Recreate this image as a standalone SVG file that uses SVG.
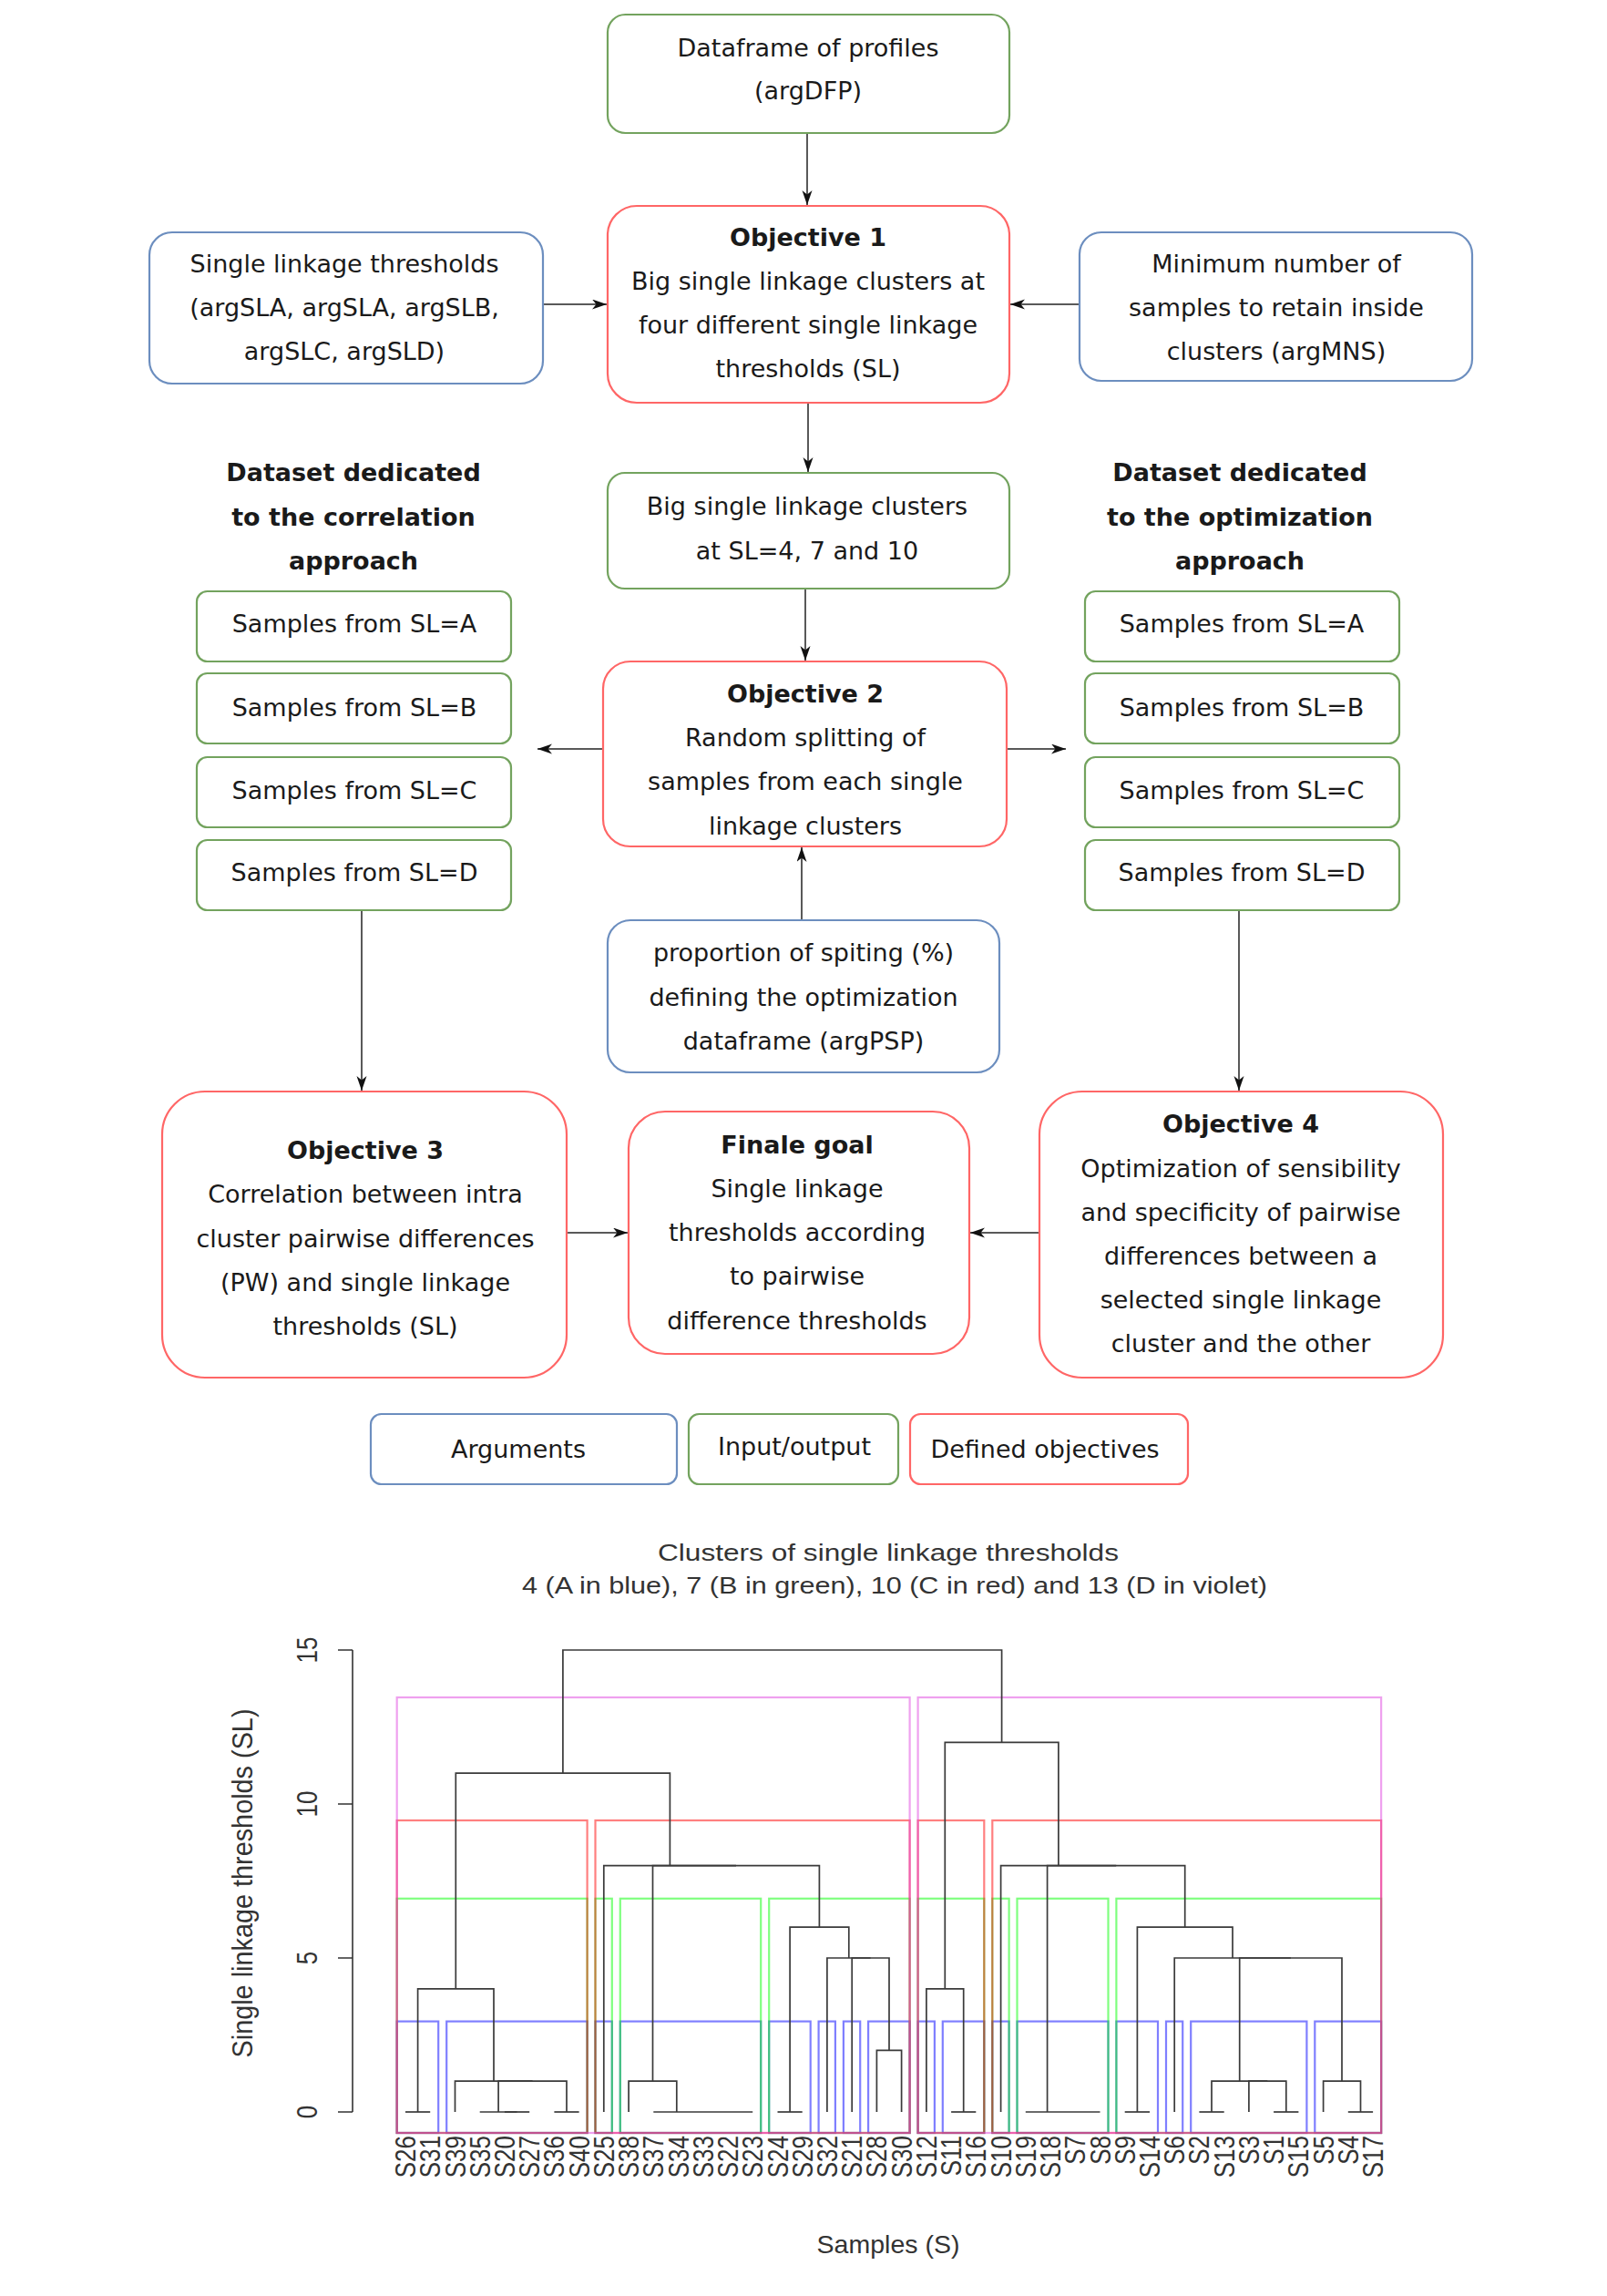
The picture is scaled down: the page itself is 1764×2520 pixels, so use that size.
<svg xmlns="http://www.w3.org/2000/svg" width="1764" height="2520" viewBox="0 0 1764 2520">
<style>
.box{fill:#fff;stroke-width:2.2}
.g{stroke:#73a35e}.b{stroke:#6c8ebf}.r{stroke:#ff6666}
.t{font-family:"DejaVu Sans",Verdana,sans-serif;font-size:27px;fill:#1a1a1a;text-anchor:middle}
.bd{font-weight:bold}
.conn{stroke:#222;stroke-width:1.5;fill:none;marker-end:url(#arr)}
.dl{stroke:#3a3a3a;stroke-width:1.7;fill:none}
.rc{fill:none;stroke-width:2.2;stroke-opacity:0.5}
.rv{stroke:#e044e0}.rr{stroke:#ff0000}.rg{stroke:#00ff00}.rb{stroke:#0000ff}
.pt{font-family:"Liberation Sans",Arial,sans-serif;fill:#333}
.lab{font-size:26px;text-anchor:end}
.tick{font-size:26px;text-anchor:middle}
.ax{stroke:#333;stroke-width:1.6;fill:none}
</style>
<defs>
<marker id="arr" markerWidth="18" markerHeight="12" refX="16" refY="5.5" orient="auto" markerUnits="userSpaceOnUse"><path d="M0,0 L16,5.5 L0,11 L4.5,5.5 z" fill="#111"/></marker>
</defs>

<g id="connectors">
<path class="conn" d="M886,146 V225"/>
<path class="conn" d="M596,334 H666"/>
<path class="conn" d="M1185,334 H1109"/>
<path class="conn" d="M887,442 V518"/>
<path class="conn" d="M884,646 V725"/>
<path class="conn" d="M662,822 H590"/>
<path class="conn" d="M1105,822 H1170"/>
<path class="conn" d="M880,1010 V930"/>
<path class="conn" d="M397,1000 V1197"/>
<path class="conn" d="M1360,1000 V1197"/>
<path class="conn" d="M622,1353 H689"/>
<path class="conn" d="M1141,1353 H1065"/>
</g>

<g id="n_dfp"><rect class="box g" x="667" y="16" width="441" height="130" rx="19.5"/>
<text class="t" x="887" y="62">Dataframe of profiles</text><text class="t" x="887" y="109">(argDFP)</text></g>

<g id="n_obj1"><rect class="box r" x="667" y="226" width="441" height="216" rx="32"/>
<text class="t bd" x="887" y="270">Objective 1</text>
<text class="t" x="887" y="318">Big single linkage clusters at</text>
<text class="t" x="887" y="366">four different single linkage</text>
<text class="t" x="887" y="414">thresholds (SL)</text></g>

<g id="n_slt"><rect class="box b" x="164" y="255" width="432" height="166" rx="25"/>
<text class="t" x="378" y="299">Single linkage thresholds</text>
<text class="t" x="378" y="347">(argSLA, argSLA, argSLB,</text>
<text class="t" x="378" y="395">argSLC, argSLD)</text></g>

<g id="n_mns"><rect class="box b" x="1185" y="255" width="431" height="163" rx="24"/>
<text class="t" x="1401" y="299">Minimum number of</text>
<text class="t" x="1401" y="347">samples to retain inside</text>
<text class="t" x="1401" y="395">clusters (argMNS)</text></g>

<g id="n_dscorr">
<text class="t bd" x="388" y="528">Dataset dedicated</text>
<text class="t bd" x="388" y="577">to the correlation</text>
<text class="t bd" x="388" y="625">approach</text></g>

<g id="n_big"><rect class="box g" x="667" y="519" width="441" height="127" rx="19"/>
<text class="t" x="886" y="565">Big single linkage clusters</text>
<text class="t" x="886" y="614">at SL=4, 7 and 10</text></g>

<g id="n_dsopt">
<text class="t bd" x="1361" y="528">Dataset dedicated</text>
<text class="t bd" x="1361" y="577">to the optimization</text>
<text class="t bd" x="1361" y="625">approach</text></g>

<g id="n_corrA"><rect class="box g" x="216" y="649" width="345" height="77" rx="11.5"/><text class="t" x="389" y="694">Samples from SL=A</text></g>
<g id="n_corrB"><rect class="box g" x="216" y="739" width="345" height="77" rx="11.5"/><text class="t" x="389" y="786">Samples from SL=B</text></g>
<g id="n_corrC"><rect class="box g" x="216" y="831" width="345" height="77" rx="11.5"/><text class="t" x="389" y="877">Samples from SL=C</text></g>
<g id="n_corrD"><rect class="box g" x="216" y="922" width="345" height="77" rx="11.5"/><text class="t" x="389" y="967">Samples from SL=D</text></g>

<g id="n_optA"><rect class="box g" x="1191" y="649" width="345" height="77" rx="11.5"/><text class="t" x="1363" y="694">Samples from SL=A</text></g>
<g id="n_optB"><rect class="box g" x="1191" y="739" width="345" height="77" rx="11.5"/><text class="t" x="1363" y="786">Samples from SL=B</text></g>
<g id="n_optC"><rect class="box g" x="1191" y="831" width="345" height="77" rx="11.5"/><text class="t" x="1363" y="877">Samples from SL=C</text></g>
<g id="n_optD"><rect class="box g" x="1191" y="922" width="345" height="77" rx="11.5"/><text class="t" x="1363" y="967">Samples from SL=D</text></g>

<g id="n_obj2"><rect class="box r" x="662" y="726" width="443" height="203" rx="30"/>
<text class="t bd" x="884" y="771">Objective 2</text>
<text class="t" x="884" y="819">Random splitting of</text>
<text class="t" x="884" y="867">samples from each single</text>
<text class="t" x="884" y="916">linkage clusters</text></g>

<g id="n_psp"><rect class="box b" x="667" y="1010" width="430" height="167" rx="25"/>
<text class="t" x="882" y="1055">proportion of spiting (%)</text>
<text class="t" x="882" y="1104">defining the optimization</text>
<text class="t" x="882" y="1152">dataframe (argPSP)</text></g>

<g id="n_obj3"><rect class="box r" x="178" y="1198" width="444" height="314" rx="47"/>
<text class="t bd" x="401" y="1272">Objective 3</text>
<text class="t" x="401" y="1320">Correlation between intra</text>
<text class="t" x="401" y="1369">cluster pairwise differences</text>
<text class="t" x="401" y="1417">(PW) and single linkage</text>
<text class="t" x="401" y="1465">thresholds (SL)</text></g>

<g id="n_final"><rect class="box r" x="690" y="1220" width="374" height="266" rx="40"/>
<text class="t bd" x="875" y="1266">Finale goal</text>
<text class="t" x="875" y="1314">Single linkage</text>
<text class="t" x="875" y="1362">thresholds according</text>
<text class="t" x="875" y="1410">to pairwise</text>
<text class="t" x="875" y="1459">difference thresholds</text></g>

<g id="n_obj4"><rect class="box r" x="1141" y="1198" width="443" height="314" rx="47"/>
<text class="t bd" x="1362" y="1243">Objective 4</text>
<text class="t" x="1362" y="1292">Optimization of sensibility</text>
<text class="t" x="1362" y="1340">and specificity of pairwise</text>
<text class="t" x="1362" y="1388">differences between a</text>
<text class="t" x="1362" y="1436">selected single linkage</text>
<text class="t" x="1362" y="1484">cluster and the other</text></g>

<g id="legend_args"><rect class="box b" x="407" y="1552" width="336" height="77" rx="11.5"/><text class="t" x="569" y="1600">Arguments</text></g>
<g id="legend_io"><rect class="box g" x="756" y="1552" width="230" height="77" rx="11.5"/><text class="t" x="872" y="1597">Input/output</text></g>
<g id="legend_obj"><rect class="box r" x="999" y="1552" width="305" height="77" rx="11.5"/><text class="t" x="1147" y="1600">Defined objectives</text></g>

<g id="dendrogram">
<text class="pt" x="975" y="1713" font-size="26" text-anchor="middle" textLength="506" lengthAdjust="spacingAndGlyphs">Clusters of single linkage thresholds</text>
<text class="pt" x="982" y="1749" font-size="26" text-anchor="middle" textLength="818" lengthAdjust="spacingAndGlyphs">4 (A in blue), 7 (B in green), 10 (C in red) and 13 (D in violet)</text>

<path class="ax" d="M387,1811 V2318 M371,2318 H387 M371,2149 H387 M371,1980 H387 M371,1811 H387"/>
<g class="pt tick">
<text transform="translate(348,2318) scale(1.2,1) rotate(-90)">0</text>
<text transform="translate(348,2149) scale(1.2,1) rotate(-90)">5</text>
<text transform="translate(348,1980) scale(1.2,1) rotate(-90)">10</text>
<text transform="translate(348,1811) scale(1.2,1) rotate(-90)">15</text>
</g>
<text class="pt" transform="translate(277,2067) scale(1.15,1) rotate(-90)" font-size="28" text-anchor="middle" textLength="383" lengthAdjust="spacingAndGlyphs">Single linkage thresholds (SL)</text>
<text class="pt" x="975" y="2473" font-size="28.5" text-anchor="middle">Samples (S)</text>

<g id="clusters">
<rect class="rc rb" x="435.7" y="2218.6" width="45.5" height="122.4"/>
<rect class="rc rb" x="490.2" y="2218.6" width="154.4" height="122.4"/>
<rect class="rc rb" x="653.5" y="2218.6" width="18.3" height="122.4"/>
<rect class="rc rb" x="680.8" y="2218.6" width="154.4" height="122.4"/>
<rect class="rc rb" x="844.2" y="2218.6" width="45.5" height="122.4"/>
<rect class="rc rb" x="898.6" y="2218.6" width="18.3" height="122.4"/>
<rect class="rc rb" x="925.9" y="2218.6" width="18.3" height="122.4"/>
<rect class="rc rb" x="953.1" y="2218.6" width="45.5" height="122.4"/>
<rect class="rc rb" x="1007.6" y="2218.6" width="18.3" height="122.4"/>
<rect class="rc rb" x="1034.8" y="2218.6" width="45.5" height="122.4"/>
<rect class="rc rb" x="1089.3" y="2218.6" width="18.3" height="122.4"/>
<rect class="rc rb" x="1116.5" y="2218.6" width="100" height="122.4"/>
<rect class="rc rb" x="1225.4" y="2218.6" width="45.6" height="122.4"/>
<rect class="rc rb" x="1280" y="2218.6" width="18.2" height="122.4"/>
<rect class="rc rb" x="1307.2" y="2218.6" width="127.2" height="122.4"/>
<rect class="rc rb" x="1443.3" y="2218.6" width="72.8" height="122.4"/>
<rect class="rc rg" x="435.7" y="2083.8" width="208.9" height="257.2"/>
<rect class="rc rg" x="653.5" y="2083.8" width="18.3" height="257.2"/>
<rect class="rc rg" x="680.8" y="2083.8" width="154.4" height="257.2"/>
<rect class="rc rg" x="844.2" y="2083.8" width="154.4" height="257.2"/>
<rect class="rc rg" x="1007.6" y="2083.8" width="72.7" height="257.2"/>
<rect class="rc rg" x="1089.3" y="2083.8" width="18.3" height="257.2"/>
<rect class="rc rg" x="1116.5" y="2083.8" width="100" height="257.2"/>
<rect class="rc rg" x="1225.4" y="2083.8" width="290.7" height="257.2"/>
<rect class="rc rr" x="435.7" y="1998" width="208.9" height="343"/>
<rect class="rc rr" x="653.5" y="1998" width="345.1" height="343"/>
<rect class="rc rr" x="1007.6" y="1998" width="72.7" height="343"/>
<rect class="rc rr" x="1089.3" y="1998" width="426.8" height="343"/>
<rect class="rc rv" x="435.7" y="1863" width="562.9" height="478"/>
<rect class="rc rv" x="1007.6" y="1863" width="508.5" height="478"/>
</g>

<g id="tree" class="dl">
<path d="M445,2318H472.2"/>
<path d="M553.9,2318H581.2"/>
<path d="M526.7,2318H567.5"/>
<path d="M608.4,2318H635.6"/>
<path d="M547.1,2318V2284.2H622V2318"/>
<path d="M499.5,2318V2284.2H584.6"/>
<path d="M458.6,2318V2182.8H542V2284.2"/>
<path d="M717.3,2318H826.2"/>
<path d="M690.1,2318V2284.2H742.8V2318"/>
<path d="M853.5,2318H880.7"/>
<path d="M962.4,2318V2250.4H989.6V2318"/>
<path d="M935.2,2318V2149H976V2250.4"/>
<path d="M907.9,2318V2149H955.6"/>
<path d="M867.1,2318V2115.2H931.8V2149"/>
<path d="M716.5,2284.2V2047.6H899.4V2115.2"/>
<path d="M662.8,2318V2047.6H808"/>
<path d="M500.3,2182.8V1946.2H735.4V2047.6"/>
<path d="M1044.1,2318H1071.3"/>
<path d="M1016.9,2318V2182.8H1057.7V2318"/>
<path d="M1125.8,2318H1207.5"/>
<path d="M1234.7,2318H1262"/>
<path d="M1316.4,2318H1343.7"/>
<path d="M1398.1,2318H1425.4"/>
<path d="M1370.9,2318V2284.2H1411.8V2318"/>
<path d="M1330,2318V2284.2H1391.3"/>
<path d="M1479.8,2318H1507.1"/>
<path d="M1452.6,2318V2284.2H1493.5V2318"/>
<path d="M1360.7,2284.2V2149H1473V2284.2"/>
<path d="M1289.2,2318V2149H1416.9"/>
<path d="M1248.4,2318V2115.2H1353V2149"/>
<path d="M1149.6,2318V2047.6H1300.7V2115.2"/>
<path d="M1098.6,2318V2047.6H1225.2"/>
<path d="M1037.3,2182.8V1912.4H1161.9V2047.6"/>
<path d="M617.9,1946.2V1811H1099.6V1912.4"/>
</g>

<g id="leaf_labels" class="pt lab">
<text transform="translate(456,2344) scale(1.2,1) rotate(-90)">S26</text>
<text transform="translate(483.2,2344) scale(1.2,1) rotate(-90)">S31</text>
<text transform="translate(510.5,2344) scale(1.2,1) rotate(-90)">S39</text>
<text transform="translate(537.7,2344) scale(1.2,1) rotate(-90)">S35</text>
<text transform="translate(564.9,2344) scale(1.2,1) rotate(-90)">S20</text>
<text transform="translate(592.2,2344) scale(1.2,1) rotate(-90)">S27</text>
<text transform="translate(619.4,2344) scale(1.2,1) rotate(-90)">S36</text>
<text transform="translate(646.6,2344) scale(1.2,1) rotate(-90)">S40</text>
<text transform="translate(673.8,2344) scale(1.2,1) rotate(-90)">S25</text>
<text transform="translate(701.1,2344) scale(1.2,1) rotate(-90)">S38</text>
<text transform="translate(728.3,2344) scale(1.2,1) rotate(-90)">S37</text>
<text transform="translate(755.5,2344) scale(1.2,1) rotate(-90)">S34</text>
<text transform="translate(782.8,2344) scale(1.2,1) rotate(-90)">S33</text>
<text transform="translate(810,2344) scale(1.2,1) rotate(-90)">S22</text>
<text transform="translate(837.2,2344) scale(1.2,1) rotate(-90)">S23</text>
<text transform="translate(864.5,2344) scale(1.2,1) rotate(-90)">S24</text>
<text transform="translate(891.7,2344) scale(1.2,1) rotate(-90)">S29</text>
<text transform="translate(918.9,2344) scale(1.2,1) rotate(-90)">S32</text>
<text transform="translate(946.2,2344) scale(1.2,1) rotate(-90)">S21</text>
<text transform="translate(973.4,2344) scale(1.2,1) rotate(-90)">S28</text>
<text transform="translate(1000.6,2344) scale(1.2,1) rotate(-90)">S30</text>
<text transform="translate(1027.9,2344) scale(1.2,1) rotate(-90)">S12</text>
<text transform="translate(1055.1,2344) scale(1.2,1) rotate(-90)">S11</text>
<text transform="translate(1082.3,2344) scale(1.2,1) rotate(-90)">S16</text>
<text transform="translate(1109.6,2344) scale(1.2,1) rotate(-90)">S10</text>
<text transform="translate(1136.8,2344) scale(1.2,1) rotate(-90)">S19</text>
<text transform="translate(1164,2344) scale(1.2,1) rotate(-90)">S18</text>
<text transform="translate(1191.3,2344) scale(1.2,1) rotate(-90)">S7</text>
<text transform="translate(1218.5,2344) scale(1.2,1) rotate(-90)">S8</text>
<text transform="translate(1245.7,2344) scale(1.2,1) rotate(-90)">S9</text>
<text transform="translate(1273,2344) scale(1.2,1) rotate(-90)">S14</text>
<text transform="translate(1300.2,2344) scale(1.2,1) rotate(-90)">S6</text>
<text transform="translate(1327.4,2344) scale(1.2,1) rotate(-90)">S2</text>
<text transform="translate(1354.7,2344) scale(1.2,1) rotate(-90)">S13</text>
<text transform="translate(1381.9,2344) scale(1.2,1) rotate(-90)">S3</text>
<text transform="translate(1409.1,2344) scale(1.2,1) rotate(-90)">S1</text>
<text transform="translate(1436.4,2344) scale(1.2,1) rotate(-90)">S15</text>
<text transform="translate(1463.6,2344) scale(1.2,1) rotate(-90)">S5</text>
<text transform="translate(1490.8,2344) scale(1.2,1) rotate(-90)">S4</text>
<text transform="translate(1518.1,2344) scale(1.2,1) rotate(-90)">S17</text>
</g>
</g>
</svg>
